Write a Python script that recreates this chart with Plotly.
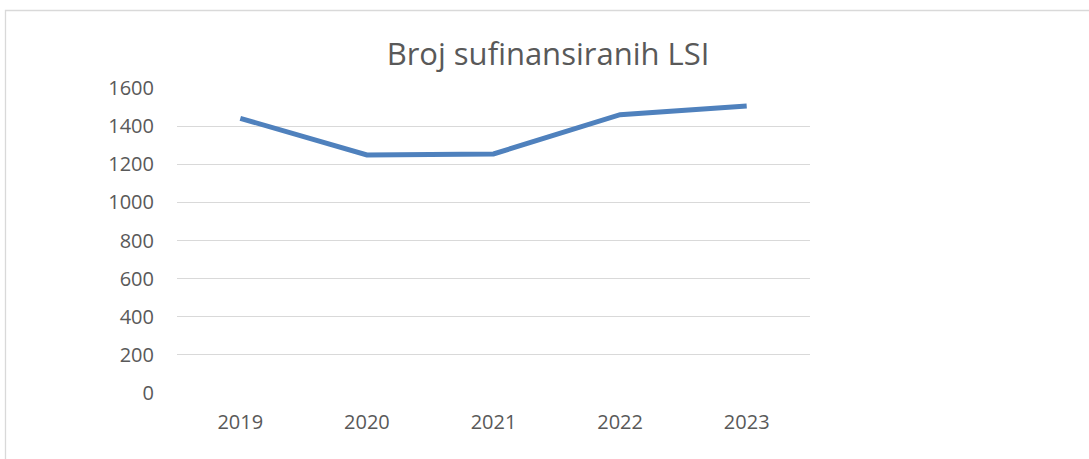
import plotly.graph_objects as go

years = ["2019", "2020", "2021", "2022", "2023"]
values = [1441, 1249, 1254, 1460, 1506]
title_text = "Broj sufinansiranih LSI"

W, H = 1089, 459
L, R, T, B = 177, 1089 - 810, 88, 459 - 393
pw, ph = W - L - R, H - T - B

fig = go.Figure()
fig.add_trace(go.Scatter(x=years, y=values, mode="lines",
                         line=dict(color="#4F81BD", width=5),
                         showlegend=False, hoverinfo="x+y"))

text_col = "#595959"
fig.update_layout(
    width=W, height=H,
    margin=dict(l=L, r=R, t=T, b=B),
    paper_bgcolor="white", plot_bgcolor="white",
    font=dict(family="Open Sans", color=text_col),
    title=dict(text=title_text, font=dict(size=31, color=text_col, family="Open Sans"),
               x=(548 - L) / pw, xref="paper", xanchor="center",
               y=1 - 54 / H, yref="container", yanchor="middle"),
    xaxis=dict(type="category", range=[-0.5, 4.5], showgrid=False, zeroline=False,
               showline=False, ticks="", tickfont=dict(size=20, color=text_col),
               ticklabelstandoff=15),
    yaxis=dict(range=[0, 1600], dtick=200, showgrid=True, gridcolor="#d9d9d9",
               gridwidth=1.4, zeroline=False, showline=False, ticks="",
               tickfont=dict(size=20, color=text_col), ticklabelstandoff=22),
    shapes=[dict(type="rect", xref="paper", yref="paper",
                 x0=(5.5 - L) / pw, x1=(1095 - L) / pw,
                 y0=(H - B - 470) / ph, y1=(H - B - 10.5) / ph,
                 line=dict(color="#d9d9d9", width=1.3), fillcolor="rgba(0,0,0,0)",
                 layer="below")],
)

fig.write_html("out.html", config={"displayModeBar": False},
               post_script="document.body.style.margin='0';")
